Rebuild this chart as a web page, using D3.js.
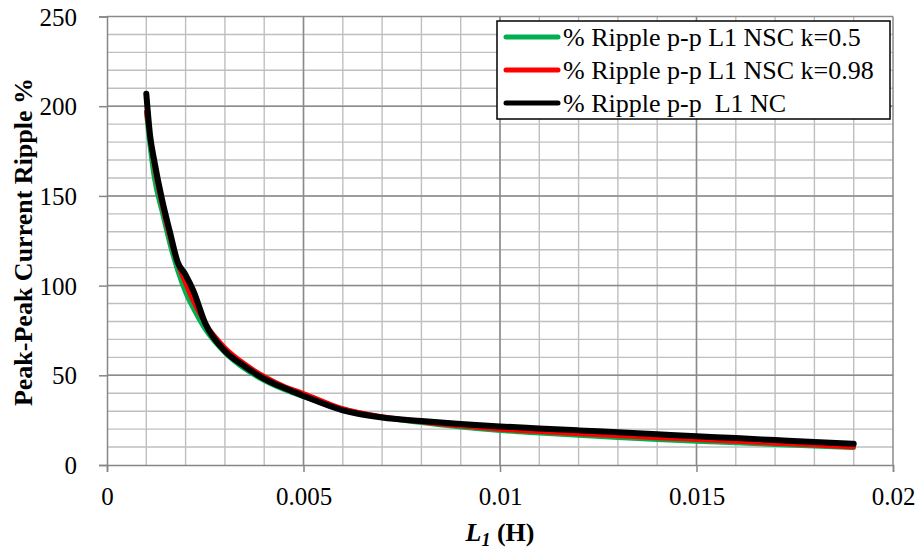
<!DOCTYPE html>
<html>
<head>
<meta charset="utf-8">
<script src="https://cdn.jsdelivr.net/npm/d3@7"></script>
<style>
	body { margin: 0; background: white; }
	svg text { font-family: "Liberation Serif", "Times New Roman", Times, "DejaVu Serif", serif; fill: black; }
</style>
</head>
<body>
<svg width="919" height="550"></svg>
<script>
// inductance L1 (H) where the ripple was computed
const inductance = [0.001, 0.0011, 0.0012, 0.0014, 0.0016, 0.0018, 0.002, 0.0022, 0.0025, 0.003,
	0.0035, 0.004, 0.0045, 0.005, 0.006, 0.007, 0.008, 0.009, 0.010, 0.011,
	0.012, 0.013, 0.014, 0.015, 0.016, 0.017, 0.018, 0.019];

// % ripple p-p
const rippleNscK05 = [196, 176, 160, 141, 123, 108, 96, 87, 75.5, 62.5,
	53.5, 47, 42, 38, 31.3, 26.8, 23.5, 21, 19.1, 17.7,
	16.4, 15.2, 14.1, 13.1, 12.2, 11.3, 10.4, 9.6];
const rippleNscK098 = [197, 182, 167, 145, 127, 112, 101, 91, 79, 65.5,
	56.5, 49.5, 44, 40, 31.5, 27, 24, 21.7, 19.8, 18.5,
	17.3, 16.2, 15.1, 14.1, 13.1, 12.0, 11.0, 9.9];
const rippleNc = [207, 183, 170, 148, 130, 113, 106, 97, 79, 63.5,
	55, 48, 43, 38.5, 30.5, 26.5, 24.5, 22.8, 21.5, 20.4,
	19.3, 18.2, 17.1, 16.0, 15.0, 13.9, 12.8, 11.8];

const seriesNames = ["% Ripple p-p L1 NSC k=0.5", "% Ripple p-p L1 NSC k=0.98", "% Ripple p-p  L1 NC"];
const seriesColors = ["#00b050", "#ff0000", "#000000"];
const seriesWidths = [4.5, 4.5, 6];

const xTicks = [0, 0.005, 0.01, 0.015, 0.02];
const xTickLabels = ["0", "0.005", "0.01", "0.015", "0.02"];
const yTicks = [0, 50, 100, 150, 200, 250];

const serif = '"Liberation Serif", "Times New Roman", Times, "DejaVu Serif", serif';
const svg = d3.select("svg");
const x = d3.scaleLinear().domain([0, 0.02]).range([107, 893]);
const y = d3.scaleLinear().domain([0, 250]).range([465, 16.5]);

// minor grid
const grid = svg.append("g");
grid.selectAll("line.vminor").data(d3.range(1, 20).map(i => i * 0.001)).enter().append("line")
	.attr("x1", d => x(d)).attr("x2", d => x(d)).attr("y1", y(0)).attr("y2", y(250))
	.style("stroke", "#bfbfbf").style("stroke-width", 1.4);
grid.selectAll("line.hminor").data(d3.range(1, 25).map(i => i * 10)).enter().append("line")
	.attr("y1", d => y(d)).attr("y2", d => y(d)).attr("x1", x(0)).attr("x2", x(0.02))
	.style("stroke", "#bfbfbf").style("stroke-width", 1.4);
// major grid
grid.selectAll("line.vmajor").data(xTicks.slice(1)).enter().append("line")
	.attr("x1", d => x(d)).attr("x2", d => x(d)).attr("y1", y(0)).attr("y2", y(250))
	.style("stroke", "#8a8a8a").style("stroke-width", 1.5);
grid.selectAll("line.hmajor").data(yTicks.slice(1)).enter().append("line")
	.attr("y1", d => y(d)).attr("y2", d => y(d)).attr("x1", x(0)).attr("x2", x(0.02))
	.style("stroke", "#8a8a8a").style("stroke-width", 1.5);

// axes
const xAxis = svg.append("g").attr("transform", "translate(0," + y(0) + ")")
	.call(d3.axisBottom(x).tickValues(xTicks).tickSize(7).tickPadding(15)
		.tickFormat((d, i) => xTickLabels[i]));
const yAxis = svg.append("g").attr("transform", "translate(" + x(0) + ",0)")
	.call(d3.axisLeft(y).tickValues(yTicks).tickSize(8).tickPadding(22));
[xAxis, yAxis].forEach(a => {
	a.attr("font-family", serif).attr("font-size", 25);
	a.select(".domain").style("stroke", "#868686").style("stroke-width", 1.5);
	a.selectAll(".tick line").style("stroke", "#868686").style("stroke-width", 1.5);
	a.selectAll("text").style("font-family", serif).style("font-size", "25px").style("fill", "black");
});
yAxis.selectAll("text").attr("dy", "0.34em");
xAxis.selectAll("text").attr("dy", "0.71em");

// curves
const allSeries = [rippleNscK05, rippleNscK098, rippleNc];
const line = d3.line().x(d => x(d[0])).y(d => y(d[1])).curve(d3.curveMonotoneX);
svg.append("g").selectAll("path").data(allSeries).enter().append("path")
	.attr("d", vals => line(inductance.map((l, i) => [l, vals[i]])))
	.style("fill", "none")
	.style("stroke", (d, i) => seriesColors[i])
	.style("stroke-width", (d, i) => seriesWidths[i])
	.style("stroke-linecap", "round").style("stroke-linejoin", "round");

// axis titles
svg.append("text").attr("transform", "translate(32,242) rotate(-90)")
	.attr("text-anchor", "middle").style("font-weight", "bold").style("font-size", "26px")
	.text("Peak-Peak Current Ripple %");
const xt = svg.append("text").attr("x", 500).attr("y", 541).attr("text-anchor", "middle")
	.style("font-weight", "bold").style("font-size", "26px");
xt.append("tspan").style("font-style", "italic").text("L");
xt.append("tspan").style("font-style", "italic").style("font-size", "18px").attr("dy", 5).text("1");
xt.append("tspan").attr("dy", -5).text(" (H)");

// legend
const lg = svg.append("g");
lg.append("rect").attr("x", 497).attr("y", 21).attr("width", 393).attr("height", 98)
	.style("fill", "white").style("stroke", "black").style("stroke-width", 1.5);
const rows = lg.selectAll("g.row").data(seriesNames).enter().append("g")
	.attr("transform", (d, i) => "translate(0," + (37 + i * 33) + ")");
rows.append("line").attr("x1", 506).attr("x2", 558).attr("y1", 0).attr("y2", 0)
	.style("stroke", (d, i) => seriesColors[i]).style("stroke-width", 5).style("stroke-linecap", "round");
rows.append("text").attr("x", 563).attr("dy", "0.33em").style("font-size", "26px")
	.style("white-space", "pre").text(d => d);
</script>
</body>
</html>
